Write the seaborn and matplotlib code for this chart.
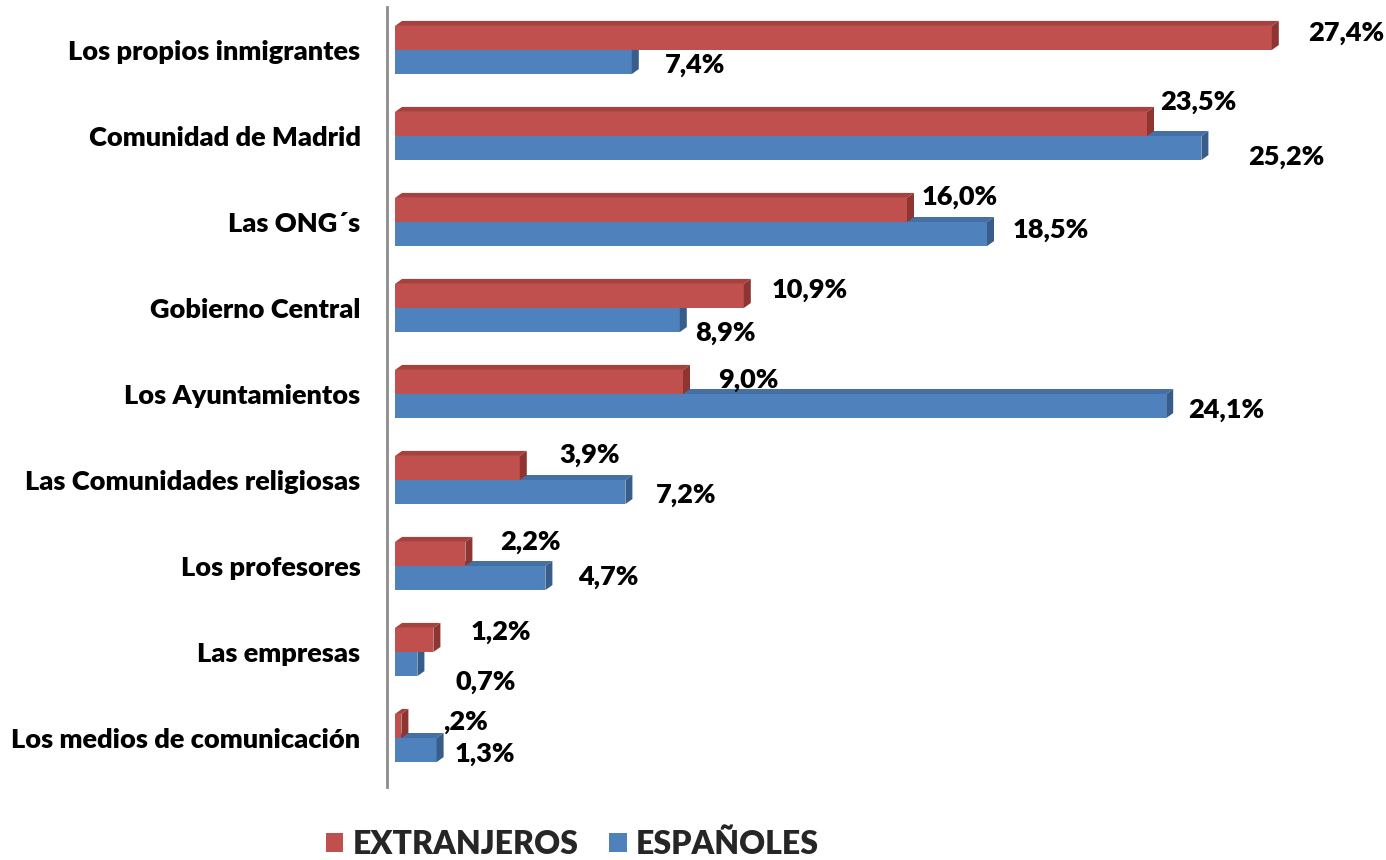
import pandas as pd
import matplotlib.pyplot as plt
import seaborn as sns
from matplotlib.patches import Polygon

# Data
categorias = [
    "Los propios inmigrantes",
    "Comunidad de Madrid",
    "Las ONG´s",
    "Gobierno Central",
    "Los Ayuntamientos",
    "Las Comunidades religiosas",
    "Los profesores",
    "Las empresas",
    "Los medios de comunicación",
]
extranjeros = [27.4, 23.5, 16.0, 10.9, 9.0, 3.9, 2.2, 1.2, 0.2]
espanoles = [7.4, 25.2, 18.5, 8.9, 24.1, 7.2, 4.7, 0.7, 1.3]
etiquetas_ext = ["27,4%", "23,5%", "16,0%", "10,9%", "9,0%", "3,9%", "2,2%", "1,2%", ",2%"]
etiquetas_esp = ["7,4%", "25,2%", "18,5%", "8,9%", "24,1%", "7,2%", "4,7%", "0,7%", "1,3%"]
grupos = ["EXTRANJEROS", "ESPAÑOLES"]

# label nudges (pixels: right of bar end, down from bar centre)
nudge_ext = [(36, -5), (13, -22), (15, -13), (28, -6), (35, -2), (40, -13), (35, -12), (37, -8), (42, -4)]
nudge_esp = [(33, 3), (47, 9), (26, -4), (15, 13), (22, 4), (30, 3), (33, -1), (38, 18), (18, 4)]

rojo, rojo_top, rojo_lado = "#C0504D", "#A8403D", "#8E3431"
azul, azul_top, azul_lado = "#4F81BD", "#4470A6", "#385D8A"

df = pd.DataFrame({
    "categoria": categorias * 2,
    "grupo": [grupos[0]] * len(categorias) + [grupos[1]] * len(categorias),
    "valor": extranjeros + espanoles,
})

sns.set_theme(style="white")
plt.rcParams["font.family"] = ["Lato", "DejaVu Sans"]
plt.rcParams["font.weight"] = "heavy"

W, H = 1386, 860
fig = plt.figure(figsize=(W / 100, H / 100), dpi=100)
ax = fig.add_axes([387 / W, 1 - 787 / H, 1 - 387 / W, 780 / H])

sns.barplot(data=df, y="categoria", x="valor", hue="grupo", hue_order=grupos,
            palette=[rojo, azul], orient="h", width=0.56, saturation=1,
            errorbar=None, linewidth=0, ax=ax)

px_x = 32.0   # pixels per percent
px_y = 86.0   # pixels per category
ax.set_xlim(-8 / px_x, (W - 395) / px_x)
ax.set_ylim(-0.5 + 780 / px_y, -0.5)

dx = 7 / px_x
dy = 5 / px_y
estilos = [(rojo_top, rojo_lado, 3), (azul_top, azul_lado, 2)]
for cont, (c_top, c_side, z) in zip(ax.containers, estilos):
    for bar in cont:
        bar.set_zorder(z)
        x0, x1 = bar.get_x(), bar.get_x() + bar.get_width()
        yt, yb = bar.get_y(), bar.get_y() + bar.get_height()
        top = Polygon([(x0, yt), (x1, yt), (x1 + dx, yt - dy), (x0 + dx, yt - dy)],
                      closed=True, facecolor=c_top, edgecolor="none", zorder=z + 0.1)
        side = Polygon([(x1, yt), (x1, yb), (x1 + dx, yb - dy), (x1 + dx, yt - dy)],
                       closed=True, facecolor=c_side, edgecolor="none", zorder=z + 0.1)
        ax.add_patch(top)
        ax.add_patch(side)

for cont, textos, nudges in zip(ax.containers, [etiquetas_ext, etiquetas_esp], [nudge_ext, nudge_esp]):
    for bar, t, (nx, ny) in zip(cont, textos, nudges):
        ax.annotate(t, (bar.get_x() + bar.get_width(), bar.get_y() + bar.get_height() / 2),
                    xytext=(nx, -ny), textcoords="offset pixels", ha="left", va="center",
                    fontsize=19.5, fontweight="heavy", color="black", zorder=5, annotation_clip=False)

# axes styling
for s in ["top", "right", "bottom"]:
    ax.spines[s].set_visible(False)
ax.spines["left"].set_color("#8C8C8C")
ax.spines["left"].set_linewidth(2)
ax.set_xticks([])
ax.set_xlabel("")
ax.set_ylabel("")
ax.set_yticks(range(len(categorias)))
ax.set_yticklabels(categorias, fontsize=19.5, fontweight="heavy", color="black")
ax.tick_params(axis="y", length=0, pad=19)
ax.set_yticks([i - 0.5 for i in range(len(categorias) + 1)], minor=True)
ax.tick_params(axis="y", which="minor", length=5, width=1, color="#8C8C8C", direction="out")

sns.move_legend(ax, "center", bbox_to_anchor=(572 / W, 1 - 844 / H), bbox_transform=fig.transFigure,
                ncol=2, frameon=False, title=None, fontsize=23, handlelength=0.56, handleheight=0.56,
                handletextpad=0.28, columnspacing=0.95)
for t in ax.get_legend().get_texts():
    t.set_fontweight("heavy")

fig.savefig("out.png", dpi=100)
